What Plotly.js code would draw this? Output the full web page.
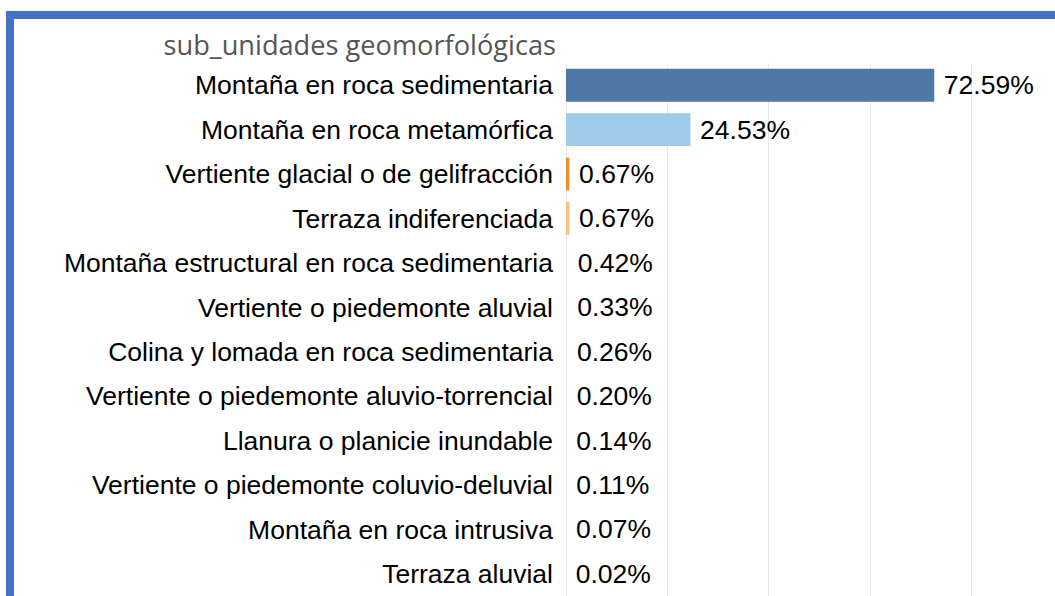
<!DOCTYPE html>
<html>
<head>
<meta charset="utf-8">
<script src="https://cdn.plot.ly/plotly-3.0.1.min.js"></script>
<style>
  html, body { margin: 0; padding: 0; background: #ffffff; }
  #frame { position: absolute; left: 6px; top: 11px; width: 1049px; height: 585px;
           border-left: 8px solid #4472C4; border-top: 8px solid #4472C4; box-sizing: border-box; }
  #chart { position: absolute; left: 0; top: 0; width: 1055px; height: 596px; }
</style>
</head>
<body>
<div id="frame"></div>
<div id="chart"></div>
<script>
const categories = [
  "Montaña en roca sedimentaria",
  "Montaña en roca metamórfica",
  "Vertiente glacial o de gelifracción",
  "Terraza indiferenciada",
  "Montaña estructural en roca sedimentaria",
  "Vertiente o piedemonte aluvial",
  "Colina y lomada en roca sedimentaria",
  "Vertiente o piedemonte aluvio-torrencial",
  "Llanura o planicie inundable",
  "Vertiente o piedemonte coluvio-deluvial",
  "Montaña en roca intrusiva",
  "Terraza aluvial"
];
const percentages = [72.59, 24.53, 0.67, 0.67, 0.42, 0.33, 0.26, 0.20, 0.14, 0.11, 0.07, 0.02];
// rows 5+ show no visible bar in the reference
const barColors = ["#4E79A7", "#A0CBE8", "#F28E2B", "#FFBE7D",
                   "rgba(0,0,0,0)", "rgba(0,0,0,0)", "rgba(0,0,0,0)", "rgba(0,0,0,0)",
                   "rgba(0,0,0,0)", "rgba(0,0,0,0)", "rgba(0,0,0,0)", "rgba(0,0,0,0)"];
const chartTitle = "sub_unidades geomorfológicas";

const labels = percentages.map(v => "\u2005" + v.toFixed(2) + "%");

const trace = {
  type: "bar",
  orientation: "h",
  x: percentages,
  y: categories,
  marker: { color: barColors, line: { width: 0 } },
  text: labels,
  textposition: "outside",
  constraintext: "none",
  cliponaxis: false,
  textfont: { family: "Liberation Sans, Arial, sans-serif", size: 26.5, color: "#000000" },
  hoverinfo: "none"
};

const layout = {
  width: 1055,
  height: 596,
  margin: { l: 566, r: 0, t: 63, b: 0, autoexpand: false },
  paper_bgcolor: "rgba(0,0,0,0)",
  plot_bgcolor: "rgba(0,0,0,0)",
  showlegend: false,
  bargap: 0.26,
  title: {
    text: chartTitle,
    font: { family: "Open Sans, sans-serif", size: 27.2, color: "#555555" },
    xref: "container", x: 556 / 1055, xanchor: "right",
    yref: "container", y: 1 - 45 / 596, yanchor: "middle"
  },
  xaxis: {
    range: [0, 96.4],
    dtick: 20,
    showgrid: true,
    gridcolor: "#e8e8e8",
    gridwidth: 1,
    zeroline: true,
    zerolinecolor: "#e8e8e8",
    zerolinewidth: 1,
    showticklabels: false,
    ticks: "",
    showline: false,
    fixedrange: true
  },
  yaxis: {
    autorange: "reversed",
    showgrid: false,
    zeroline: false,
    showline: false,
    ticks: "",
    ticklabelstandoff: 12,
    tickfont: { family: "Liberation Sans, Arial, sans-serif", size: 26.5, color: "#000000" },
    automargin: false,
    fixedrange: true
  }
};

Plotly.newPlot("chart", [trace], layout, { displayModeBar: false, staticPlot: true });
</script>
</body>
</html>
